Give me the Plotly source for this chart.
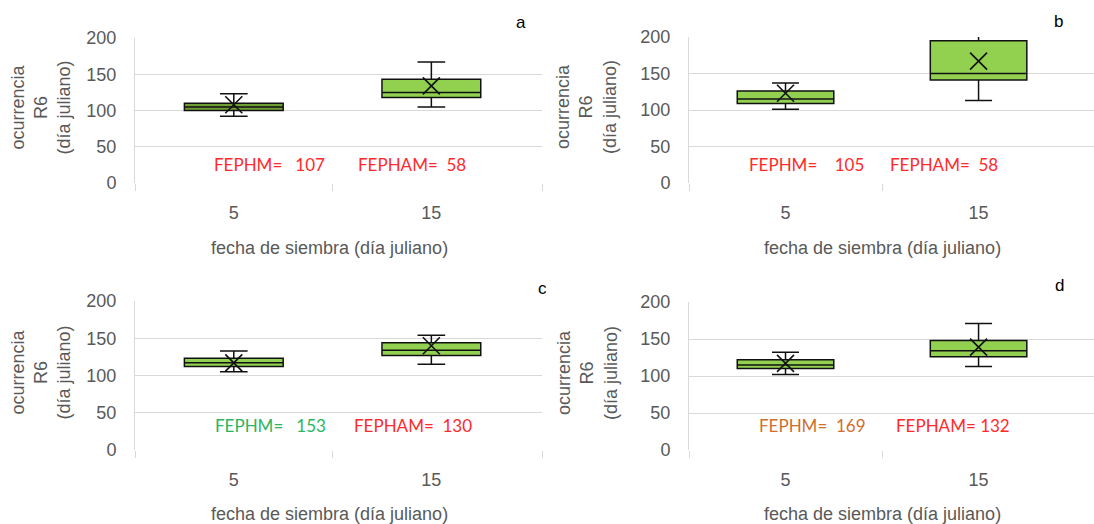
import plotly.graph_objects as go

# Sowing dates (Julian day) shown as categories on each panel
sowing_dates = ["5", "15"]
category_pos = [0.5, 1.5]

# Box statistics of R6 occurrence (Julian day) for each panel: [date 5, date 15]
a_q1 = [100, 118]
a_median = [105, 125]
a_q3 = [110, 143]
a_low = [92, 105]
a_high = [123, 167]
a_mean = [108, 134]

b_q1 = [109, 141]
b_median = [115, 150]
b_q3 = [126, 195]
b_low = [101, 113]
b_high = [137, 204]
b_mean = [123, 167]

c_q1 = [112, 127]
c_median = [117, 134]
c_q3 = [123, 144]
c_low = [105, 115]
c_high = [133, 154]
c_mean = [117, 140]

d_q1 = [110, 126]
d_median = [115, 134]
d_q3 = [122, 148]
d_low = [102, 113]
d_high = [132, 171]
d_mean = [117, 139]

# Annotation values per panel
fephm_values = [107, 105, 153, 169]
fepham_values = [58, 58, 130, 132]
panel_letters = ["a", "b", "c", "d"]

y_ticks = [0, 50, 100, 150, 200]

GREY = "#595959"
GRID = "#d9d9d9"
GREEN = "#92D050"
DARK_GREEN = "#6F9E34"
NB = "\u00a0"
SANS = "Liberation Sans, Arial"

panels = [
    dict(q1=a_q1, med=a_median, q3=a_q3, lo=a_low, hi=a_high, mean=a_mean,
         fill=[DARK_GREEN, GREEN], xdom=[135 / 1094, 542 / 1094], xmax=2.06,
         ydom=[1 - 183 / 524, 1 - 38 / 524], whisk=0.28,
         hm_x=0.39, ham_x=1.12, txt_y=25, hm_col="#FF2a2a", ham_col="#FF2a2a",
         hm_gap=3, ham_gap=2, letter_xy=(521, 22), title_y=248),
    dict(q1=b_q1, med=b_median, q3=b_q3, lo=b_low, hi=b_high, mean=b_mean,
         fill=[GREEN, GREEN], xdom=[689 / 1094, 1.0], xmax=2.098,
         ydom=[1 - 183 / 524, 1 - 37 / 524], whisk=0.28,
         hm_x=0.30, ham_x=1.03, txt_y=25, hm_col="#FF2a2a", ham_col="#FF2a2a",
         hm_gap=4, ham_gap=2, letter_xy=(1058, 21), title_y=248),
    dict(q1=c_q1, med=c_median, q3=c_q3, lo=c_low, hi=c_high, mean=c_mean,
         fill=[GREEN, GREEN], xdom=[135 / 1094, 542 / 1094], xmax=2.06,
         ydom=[1 - 450 / 524, 1 - 301 / 524], whisk=0.28,
         hm_x=0.395, ham_x=1.10, txt_y=33, hm_col="#2BB55E", ham_col="#FF2a2a",
         hm_gap=3, ham_gap=2, letter_xy=(542, 288), title_y=514),
    dict(q1=d_q1, med=d_median, q3=d_q3, lo=d_low, hi=d_high, mean=d_mean,
         fill=[GREEN, GREEN], xdom=[689 / 1094, 1.0], xmax=2.098,
         ydom=[1 - 450 / 524, 1 - 302 / 524], whisk=0.28,
         hm_x=0.35, ham_x=1.06, txt_y=33, hm_col="#CF6E2E", ham_col="#FF2a2a",
         hm_gap=2, ham_gap=1, letter_xy=(1059, 285), title_y=514),
]

fig = go.Figure()
annotations = []
layout_axes = {}

for i, p in enumerate(panels):
    n = i + 1
    xa = "x" if n == 1 else f"x{n}"
    ya = "y" if n == 1 else f"y{n}"
    xkey = "xaxis" if n == 1 else f"xaxis{n}"
    ykey = "yaxis" if n == 1 else f"yaxis{n}"

    for j in range(2):
        fig.add_trace(go.Box(
            x=[category_pos[j]],
            q1=[p["q1"][j]], median=[p["med"][j]], q3=[p["q3"][j]],
            lowerfence=[p["lo"][j]], upperfence=[p["hi"][j]],
            width=0.5, whiskerwidth=p["whisk"],
            fillcolor=p["fill"][j],
            line=dict(color="#111111", width=1.5),
            boxpoints=False, showlegend=False, hoverinfo="skip",
            xaxis=xa, yaxis=ya,
        ))
    # mean markers
    fig.add_trace(go.Scatter(
        x=category_pos, y=p["mean"], mode="markers",
        marker=dict(symbol="x-thin", size=17,
                    line=dict(color="#111111", width=1.6)),
        showlegend=False, hoverinfo="skip", xaxis=xa, yaxis=ya,
        cliponaxis=False,
    ))

    layout_axes[xkey] = dict(
        domain=p["xdom"], range=[0, p["xmax"]], anchor=ya, automargin=False,
        tickmode="array", tickvals=category_pos, ticktext=sowing_dates,
        ticks="", showgrid=False, zeroline=False, showline=False,
        tickfont=dict(family=SANS, size=18, color=GREY),
        ticklabelstandoff=17,
        minor=dict(tickmode="array", tickvals=[0, 1, p["xmax"]],
                   ticks="outside", ticklen=7, tickcolor=GRID, tickwidth=1),
    )
    layout_axes[ykey] = dict(
        domain=p["ydom"], range=[0, 200], anchor=xa, automargin=False,
        tickmode="array", tickvals=y_ticks,
        showgrid=True, gridcolor=GRID, gridwidth=1,
        zeroline=False, showline=True, linecolor=GRID, linewidth=1,
        ticks="", ticklabelstandoff=14,
        tickfont=dict(family=SANS, size=18, color=GREY),
    )

    # FEPHM / FEPHAM labels
    annotations.append(dict(
        x=p["hm_x"], y=p["txt_y"], xref=xa, yref=ya, xanchor="left",
        yanchor="middle", showarrow=False,
        text="FEPHM=" + NB * p["hm_gap"] + f"{fephm_values[i]}",
        font=dict(family="Lato, Open Sans", size=17, color=p["hm_col"]),
    ))
    annotations.append(dict(
        x=p["ham_x"], y=p["txt_y"], xref=xa, yref=ya, xanchor="left",
        yanchor="middle", showarrow=False,
        text="FEPHAM=" + NB * p["ham_gap"] + f"{fepham_values[i]}",
        font=dict(family="Lato, Open Sans", size=17, color=p["ham_col"]),
    ))

    # axis titles
    y0, y1 = p["ydom"]
    xcenter = 329 / 1094 if n in (1, 3) else 882 / 1094
    annotations.append(dict(
        x=xcenter, y=1 - p["title_y"] / 524, xref="paper", yref="paper",
        xanchor="center", yanchor="middle", showarrow=False,
        text="fecha de siembra (día juliano)",
        font=dict(family=SANS, size=18, color=GREY),
    ))
    left_px = 41 if n in (1, 3) else 587
    annotations.append(dict(
        x=left_px / 1094, y=(y0 + y1) / 2 + 3 / 524, xref="paper", yref="paper",
        xanchor="center", yanchor="middle", showarrow=False, textangle=-90,
        text="ocurrencia<br>R6<br>(día juliano)",
        font=dict(family=SANS, size=18, color=GREY),
    ))
    lx, ly = p["letter_xy"]
    annotations.append(dict(
        x=lx / 1094, y=1 - ly / 524, xref="paper", yref="paper",
        xanchor="center", yanchor="middle", showarrow=False,
        text=panel_letters[i],
        font=dict(family=SANS, size=17, color="#000000"),
    ))

fig.update_layout(
    width=1094, height=524,
    margin=dict(l=0, r=0, t=0, b=0),
    paper_bgcolor="white", plot_bgcolor="white",
    annotations=annotations,
    **layout_axes,
)

fig.write_html("out.html")
